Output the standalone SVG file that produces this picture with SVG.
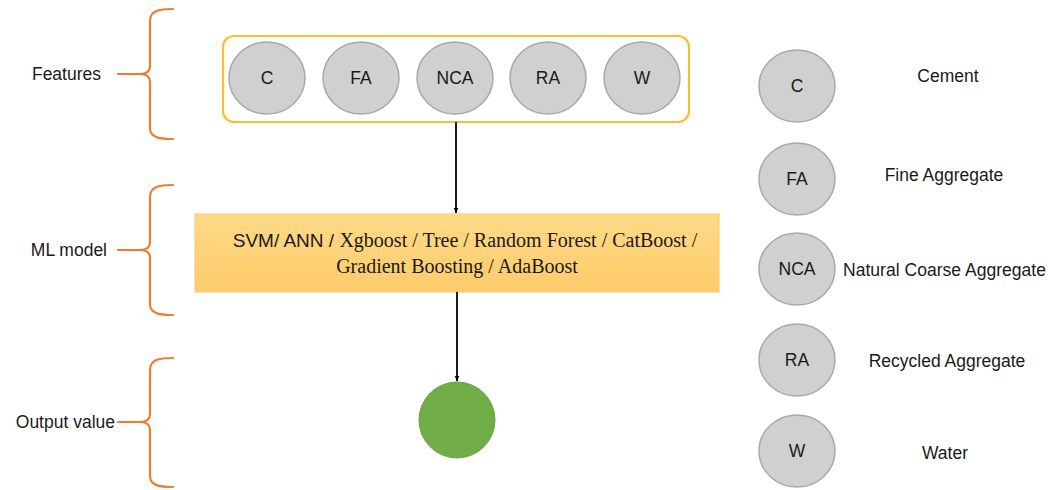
<svg xmlns="http://www.w3.org/2000/svg" width="1048" height="490" viewBox="0 0 1048 490">
  <defs>
    <linearGradient id="modelFill" x1="0" y1="0" x2="0" y2="1">
      <stop offset="0" stop-color="#FFDA88"/>
      <stop offset="1" stop-color="#FCCB6A"/>
    </linearGradient>
    <marker id="arrow" viewBox="0 0 10 10" refX="9" refY="5" markerWidth="6" markerHeight="6" orient="auto" markerUnits="userSpaceOnUse">
      <path d="M0,1 L10,5 L0,9 Z" fill="#000"/>
    </marker>
  </defs>
  <style>
    .lbl { font-family: "Liberation Sans", Arial, sans-serif; font-size: 17.5px; fill: #1A1A1A; }
    .mid { text-anchor: middle; }
    .feat { fill: #D0D0D0; stroke: #A8A8A8; stroke-width: 1.5; }
    .brace { fill: none; stroke: #ED7D31; stroke-width: 2.2; stroke-linecap: round; }
    .conn { stroke: #000; stroke-width: 1.8; fill: none; }
    .serif { font-family: "Liberation Serif", "Times New Roman", serif; font-size: 20px; fill: #1A1A1A; }
  </style>

  <rect width="1048" height="490" fill="#FFFFFF"/>

  <!-- stage braces and their labels -->
  <g id="stage-features">
    <path class="brace" d="M173,9 C158,9 150,11 150,21 L150,66 C150,72 146,74 140,74 L118,74 M140,74 C146,74 150,76 150,82 L150,128 C150,137 158,139 173,139"/>
    <text class="lbl" x="101" y="80" text-anchor="end">Features</text>
  </g>
  <g id="stage-model">
    <path class="brace" d="M173,185 C158,185 150,187 150,197 L150,242 C150,248 146,250 140,250 L118,250 M140,250 C146,250 150,252 150,258 L150,304 C150,313 158,315 173,315"/>
    <text class="lbl" x="107" y="256" text-anchor="end">ML model</text>
  </g>
  <g id="stage-output">
    <path class="brace" d="M173,358 C158,358 150,360 150,370 L150,414 C150,420 146,422 140,422 L118,422 M140,422 C146,422 150,424 150,430 L150,476 C150,485 158,487 173,487"/>
    <text class="lbl" x="115" y="428" text-anchor="end">Output value</text>
  </g>

  <!-- input feature group -->
  <g id="features">
    <rect x="223" y="36" width="466" height="86" rx="11" ry="11" fill="#FFFFFF" stroke="#F5C02F" stroke-width="2.2"/>
    <g id="feat-c">
      <ellipse class="feat" cx="267" cy="78" rx="38" ry="36"/>
      <text class="lbl mid" x="267" y="84">C</text>
    </g>
    <g id="feat-fa">
      <ellipse class="feat" cx="361" cy="78" rx="38" ry="36"/>
      <text class="lbl mid" x="361" y="84">FA</text>
    </g>
    <g id="feat-nca">
      <ellipse class="feat" cx="455" cy="78" rx="38" ry="36"/>
      <text class="lbl mid" x="455" y="84">NCA</text>
    </g>
    <g id="feat-ra">
      <ellipse class="feat" cx="548" cy="78" rx="38" ry="36"/>
      <text class="lbl mid" x="548" y="84">RA</text>
    </g>
    <g id="feat-w">
      <ellipse class="feat" cx="642" cy="78" rx="38" ry="36"/>
      <text class="lbl mid" x="642" y="84">W</text>
    </g>
  </g>

  <!-- model block -->
  <g id="model">
    <rect x="195" y="214" width="524" height="78" fill="url(#modelFill)" stroke="#F8C870" stroke-width="1"/>
    <text class="serif mid" x="465" y="247"><tspan font-family="Liberation Sans, Arial, sans-serif" font-size="19">SVM/ ANN / </tspan>Xgboost / Tree / Random Forest / CatBoost /</text>
    <text class="serif mid" x="457" y="273">Gradient Boosting / AdaBoost</text>
  </g>

  <!-- predicted output -->
  <g id="output">
    <circle cx="457" cy="420" r="38" fill="#70AD47" stroke="#68A240" stroke-width="1"/>
  </g>

  <!-- flow connectors -->
  <g id="connectors">
    <line class="conn" x1="456" y1="122" x2="456" y2="213" marker-end="url(#arrow)"/>
    <line class="conn" x1="457" y1="292" x2="457" y2="381" marker-end="url(#arrow)"/>
  </g>

  <!-- legend of abbreviations -->
  <g id="legend-c">
    <ellipse class="feat" cx="797" cy="86" rx="38" ry="36"/>
    <text class="lbl mid" x="797" y="92">C</text>
    <text class="lbl mid" x="948" y="82">Cement</text>
  </g>
  <g id="legend-fa">
    <ellipse class="feat" cx="797" cy="179" rx="38" ry="36"/>
    <text class="lbl mid" x="797" y="185">FA</text>
    <text class="lbl mid" x="944" y="181">Fine Aggregate</text>
  </g>
  <g id="legend-nca">
    <ellipse class="feat" cx="797" cy="269" rx="38" ry="36"/>
    <text class="lbl mid" x="797" y="275">NCA</text>
    <text class="lbl" x="843" y="276" textLength="203" lengthAdjust="spacingAndGlyphs">Natural Coarse Aggregate</text>
  </g>
  <g id="legend-ra">
    <ellipse class="feat" cx="797" cy="360" rx="38" ry="36"/>
    <text class="lbl mid" x="797" y="366">RA</text>
    <text class="lbl mid" x="947" y="367">Recycled Aggregate</text>
  </g>
  <g id="legend-w">
    <ellipse class="feat" cx="797" cy="451" rx="38" ry="36"/>
    <text class="lbl mid" x="797" y="457">W</text>
    <text class="lbl mid" x="945" y="459">Water</text>
  </g>
</svg>
